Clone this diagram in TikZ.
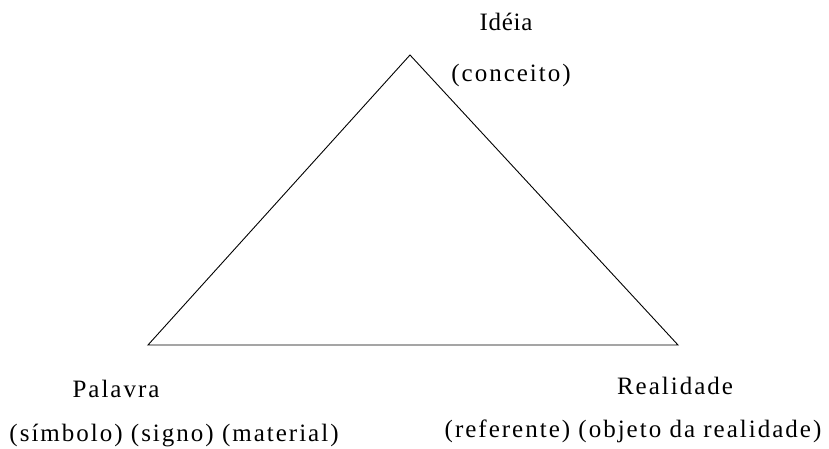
\documentclass[tikz,border=0pt]{standalone}
\usepackage{fontspec}
\setmainfont[LetterSpace=8]{Liberation Serif}
\newfontfamily\tightserif[LetterSpace=3]{Liberation Serif}
\begin{document}
\begin{tikzpicture}[x=1pt,y=1pt,
  lbl/.style={font=\fontsize{25}{30}\selectfont, inner sep=0pt, anchor=base},
  edge/.style={draw=black, line width=0.9pt}]
\useasboundingbox (0,0) rectangle (829,449);
\coordinate (top) at (410,394);
\coordinate (left) at (148,104);
\coordinate (right) at (678,104);
\draw[edge] (top) -- (left) -- (right) -- cycle;
\node[lbl, font=\fontsize{25}{30}\selectfont\tightserif] (idea) at (506,418) {Idéia};
\node[lbl] (conc) at (511,367) {(conceito)};
\node[lbl] (pal) at (116,51) {Palavra};
\node[lbl] (sim) at (174,7) {(símbolo) (signo) (material)};
\node[lbl] (real) at (675,54) {Realidade};
\node[lbl] (ref) at (633,11) {(referente) (objeto da realidade)};
\end{tikzpicture}
\end{document}
